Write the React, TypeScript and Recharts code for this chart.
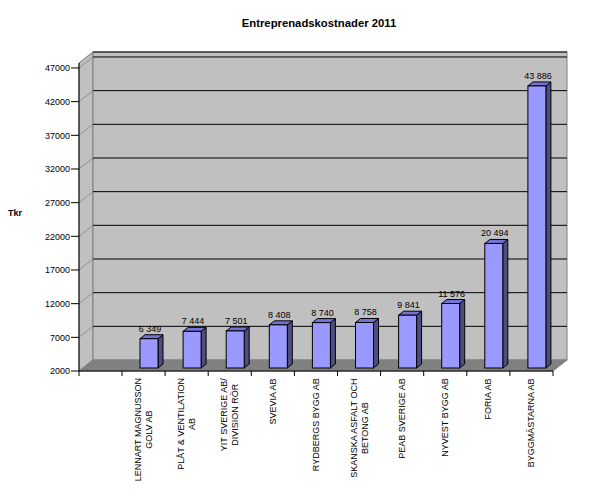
import { BarChart, Bar, XAxis, YAxis, CartesianGrid, LabelList } from 'recharts';

// data
const companies = [
  'LENNART MAGNUSSON\nGOLV AB',
  'PLÅT & VENTILATION\nAB',
  'YIT SVERIGE AB/\nDIVISION RÖR',
  'SVEVIA AB',
  'RYDBERGS BYGG AB',
  'SKANSKA ASFALT OCH\nBETONG AB',
  'PEAB SVERIGE AB',
  'NYVEST BYGG AB',
  'FORIA AB',
  'BYGGMÄSTARNA AB',
];
const costs = [6349, 7444, 7501, 8408, 8740, 8758, 9841, 11576, 20494, 43886];
const yTicks = [2000, 7000, 12000, 17000, 22000, 27000, 32000, 37000, 42000, 47000];

const data = companies.map((name, i) => ({ name, value: costs[i] }));

const W = 605;
const H = 498;
const FONT = "'Liberation Sans', Arial, sans-serif";

// plot frame (front plane) and 3D depth of the walls
const LEFT = 79;
const RIGHT = 553;
const TOP = 63;
const BOTTOM = 371;
const DX = 14;
const DY = -11;

// bars sit halfway into the depth
const BX = 5;
const BY = -3;
const BD = 5; // bar depth
const BDY = -4;

const fmt = (v: number) => String(v).replace(/\B(?=(\d{3})+(?!\d))/g, ' ');

let ctx: CanvasRenderingContext2D | null = null;
const textWidth = (s: string, size: number) => {
  if (!ctx) ctx = document.createElement('canvas').getContext('2d');
  if (!ctx) return s.length * size * 0.62;
  ctx.font = `${size}px ${FONT}`;
  return ctx.measureText(s).width;
};

const Box = (props: any) => {
  const { x, y, width, height } = props;
  if (height == null || height <= 0) return null;
  const fx = x + BX;
  const fy = y + BY;
  return (
    <g stroke="#000" strokeWidth={1}>
      <polygon
        points={`${fx + width},${fy} ${fx + width + BD},${fy + BDY} ${fx + width + BD},${fy + height + BDY} ${fx + width},${fy + height}`}
        fill="#4d4d80"
      />
      <polygon
        points={`${fx},${fy} ${fx + width},${fy} ${fx + width + BD},${fy + BDY} ${fx + BD},${fy + BDY}`}
        fill="#7373d6"
      />
      <rect x={fx} y={fy} width={width} height={height} fill="#9999ff" />
    </g>
  );
};

const ValueLabel = (props: any) => {
  const { x, y, width, value } = props;
  return (
    <text
      x={x + width / 2 + BX + 1}
      y={y - 10}
      textAnchor="middle"
      fontSize={9}
      fontFamily={FONT}
      fill="#000"
    >
      {fmt(value)}
    </text>
  );
};

const CompanyTick = (props: any) => {
  const { x, y, payload, index } = props;
  const half = payload && payload.offset ? payload.offset : 21.55;
  const lines = String(payload.value).split('\n');
  const longest = Math.max(...lines.map((l) => textWidth(l, 9)));
  const mid = y + 7 + longest / 2;
  return (
    <g>
      <line x1={x - half} y1={y} x2={x - half} y2={y + 5} stroke="#000" />
      {index === 0 && <line x1={LEFT} y1={y} x2={LEFT} y2={y + 5} stroke="#000" />}
      {index === companies.length - 1 && (
        <line x1={x + half} y1={y} x2={x + half} y2={y + 5} stroke="#000" />
      )}
      {lines.map((ln, i) => {
        const cx = x + (i - (lines.length - 1) / 2) * 11;
        return (
          <text
            key={i}
            x={cx}
            y={mid}
            transform={`rotate(-90, ${cx}, ${mid})`}
            textAnchor="middle"
            dominantBaseline="central"
            fontSize={9}
            fontFamily={FONT}
            fill="#000"
          >
            {ln}
          </text>
        );
      })}
    </g>
  );
};

const backGridLine = (props: any) => {
  const { x1, y1, x2, index } = props;
  if (Math.abs(y1 - BOTTOM) < 1) return <g key={`g-${index}`} />;
  return (
    <g key={`g-${index}`}>
      <line x1={x1} y1={y1} x2={x1 + DX} y2={y1 + DY} stroke="#909090" />
      <line x1={x1 + DX} y1={y1 + DY} x2={x2 + DX} y2={y1 + DY} stroke="#000" />
    </g>
  );
};

export default function App() {
  return (
    <div style={{ position: 'relative', width: W, height: H, background: '#fff' }}>
      <style>{`body{margin:0}`}</style>
      <svg width={W} height={H} style={{ position: 'absolute', left: 0, top: 0 }}>
        <text x={319} y={27} textAnchor="middle" fontSize={11.3} fontWeight={700} fontFamily={FONT} fill="#000">
          Entreprenadskostnader 2011
        </text>
        {/* left wall */}
        <polygon
          points={`${LEFT},${TOP} ${LEFT + DX},${TOP + DY} ${LEFT + DX},${BOTTOM + DY} ${LEFT},${BOTTOM}`}
          fill="#c0c0c0"
          stroke="#808080"
        />
        {/* back wall */}
        <rect
          x={LEFT + DX}
          y={TOP + DY}
          width={RIGHT - LEFT}
          height={BOTTOM - TOP}
          fill="#c0c0c0"
          stroke="#808080"
        />
        {/* floor */}
        <polygon
          points={`${LEFT},${BOTTOM} ${RIGHT},${BOTTOM} ${RIGHT + DX},${BOTTOM + DY} ${LEFT + DX},${BOTTOM + DY}`}
          fill="#808080"
          stroke="#808080"
        />
      </svg>
      <div style={{ position: 'absolute', left: 0, top: 0 }}>
        <BarChart
          width={W}
          height={H}
          data={data}
          margin={{ top: TOP, right: W - RIGHT, bottom: 0, left: 0 }}
          barSize={18}
        >
          <CartesianGrid vertical={false} horizontal={backGridLine} />
          <XAxis
            dataKey="name"
            height={H - BOTTOM}
            padding={{ left: 43, right: 0 }}
            interval={0}
            axisLine={{ stroke: '#000' }}
            tickLine={false}
            tickSize={0}
            tickMargin={0}
            tick={<CompanyTick />}
          />
          <YAxis
            width={LEFT}
            domain={[2000, 47740]}
            ticks={yTicks}
            allowDataOverflow
            axisLine={{ stroke: '#000' }}
            tickLine={{ stroke: '#000' }}
            tickSize={8}
            tickMargin={1}
            tick={{ fontSize: 9, fill: '#000', fontFamily: FONT }}
            label={{
              value: 'Tkr',
              position: 'insideLeft',
              offset: 8,
              dy: -4,
              fontSize: 9,
              fontWeight: 700,
              fill: '#000',
              fontFamily: FONT,
            }}
          />
          <Bar dataKey="value" shape={<Box />} isAnimationActive={false}>
            <LabelList dataKey="value" content={<ValueLabel />} />
          </Bar>
        </BarChart>
      </div>
    </div>
  );
}
